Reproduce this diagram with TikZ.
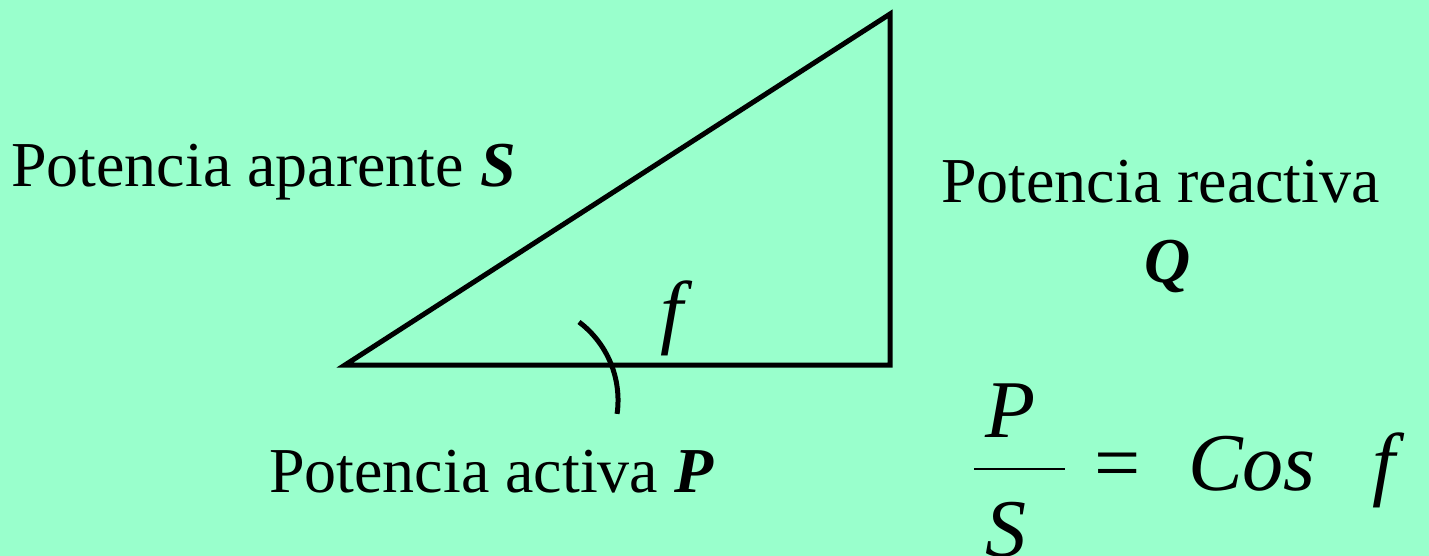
\documentclass[tikz,border=0pt]{standalone}
\usepackage{fontspec}
\setmainfont{Liberation Serif}[ItalicFont=* Italic, BoldFont=* Bold, BoldItalicFont=* Bold Italic]
\definecolor{bg}{HTML}{99FFCC}
\tikzset{
  lbl/.style={inner sep=0pt, outer sep=0pt, anchor=base west, font=\fontsize{64}{72}\selectfont},
  big/.style={inner sep=0pt, outer sep=0pt, anchor=base west, font=\fontsize{82}{90}\selectfont},
  edge/.style={line width=5pt, line join=miter},
}
\begin{document}
\begin{tikzpicture}[x=1pt,y=-1pt]
\fill[bg] (0,0) rectangle (1429,556);
\useasboundingbox (0,0) rectangle (1429,556);
% triangle
\coordinate (A) at (345,365);
\coordinate (B) at (890,365);
\coordinate (C) at (890,14);
\draw[edge] (A) -- (B) -- (C) -- cycle;
% angle arc
\coordinate (arcS) at (579,322);
\draw[line width=5pt] (arcS) arc[start angle=-53, end angle=8, radius=98];
\node[big] (phi) at (660,338) {\itshape f};
% labels
\node[lbl] (S) at (11,186) {Potencia aparente \textbf{\textit{S}}};
\node[lbl] (Q1) at (941,203) {Potencia reactiva};
\node[lbl, anchor=base] (Q) at (1168,282) {\textbf{\textit{Q}}};
\node[lbl] (P) at (269,492) {Potencia activa \textbf{\textit{P}}};
% formula
\node[big] (fp) at (985,437) {\itshape P};
\coordinate (r1) at (974,469);
\coordinate (r2) at (1065,469);
\draw[line width=1.5pt] (r1) -- (r2);
\node[big] (fs) at (985,556) {\itshape S};
\node[big] (eq) at (1094,490) {=};
\node[big] (cos) at (1188,490) {\itshape Cos};
\node[big] (f2) at (1372,490) {\itshape f};
\end{tikzpicture}
\end{document}
